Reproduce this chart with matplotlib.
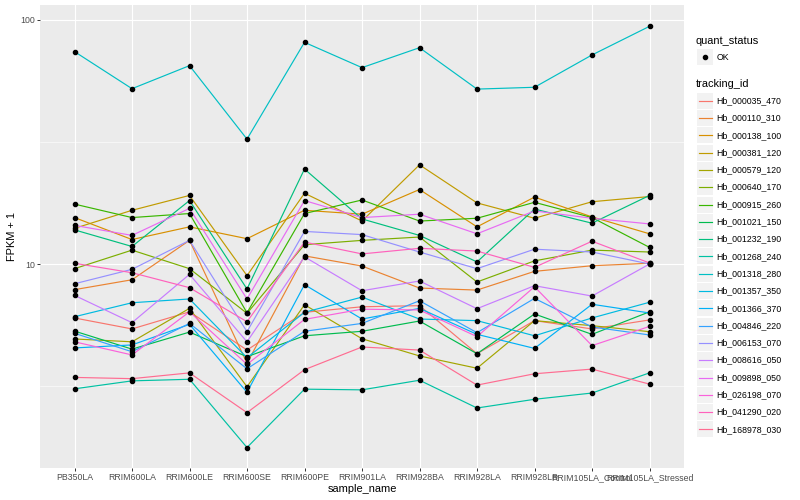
import numpy as np
import matplotlib
matplotlib.use("Agg")
import matplotlib.pyplot as plt
from matplotlib.ticker import FixedLocator, FixedFormatter
from matplotlib.patches import Rectangle
from matplotlib.lines import Line2D

plt.rcParams['font.family'] = ['Liberation Sans', 'DejaVu Sans']

samples = ["PB350LA", "RRIM600LA", "RRIM600LE", "RRIM600SE", "RRIM600PE", "RRIM901LA",
           "RRIM928BA", "RRIM928LA", "RRIM928LB", "RRIM105LA_Control", "RRIM105LA_Stressed"]

tracking_ids = ["Hb_000035_470", "Hb_000110_310", "Hb_000138_100", "Hb_000381_120",
                "Hb_000579_120", "Hb_000640_170", "Hb_000915_260", "Hb_001021_150",
                "Hb_001232_190", "Hb_001268_240", "Hb_001318_280", "Hb_001357_350",
                "Hb_001366_370", "Hb_004846_220", "Hb_006153_070", "Hb_008616_050",
                "Hb_009898_050", "Hb_026198_070", "Hb_041290_020", "Hb_168978_030"]

# FPKM + 1 per gene, one value per sample
fpkm = {
    "Hb_000035_470": [6.01, 5.42, 6.37, 4.44, 6.34, 6.68, 6.75, 4.29, 5.86, 5.42, 5.90],
    "Hb_000110_310": [7.85, 8.62, 12.5, 3.92, 10.8, 9.81, 7.97, 7.82, 9.33, 9.84, 10.07],
    "Hb_000138_100": [15.5, 12.6, 14.2, 12.7, 16.6, 16.0, 20.2, 14.2, 18.8, 15.6, 13.3],
    "Hb_000381_120": [14.0, 16.6, 19.1, 8.96, 19.5, 15.0, 25.5, 17.8, 15.4, 18.0, 18.9],
    "Hb_000579_120": [4.93, 4.80, 6.58, 3.14, 6.81, 4.94, 4.20, 3.74, 5.86, 5.59, 5.28],
    "Hb_000640_170": [9.57, 11.4, 9.57, 6.28, 12.0, 12.5, 12.9, 8.44, 10.3, 11.4, 11.2],
    "Hb_000915_260": [17.6, 15.5, 16.1, 6.31, 16.1, 18.3, 15.0, 15.4, 17.9, 15.5, 11.7],
    "Hb_001021_150": [5.31, 4.48, 5.26, 4.17, 5.08, 5.30, 5.84, 4.29, 6.24, 5.15, 6.37],
    "Hb_001232_190": [13.8, 11.8, 18.2, 7.90, 24.5, 15.3, 13.1, 10.2, 16.8, 14.7, 19.1],
    "Hb_001268_240": [3.08, 3.32, 3.37, 1.77, 3.07, 3.05, 3.34, 2.57, 2.79, 2.96, 3.58],
    "Hb_001318_280": [74.2, 52.3, 65.0, 32.5, 81.0, 63.8, 77.0, 52.1, 53.0, 71.9, 94.2],
    "Hb_001357_350": [6.08, 6.94, 7.19, 4.13, 6.34, 7.32, 5.95, 5.86, 5.08, 6.01, 6.97],
    "Hb_001366_370": [4.53, 4.66, 5.66, 2.98, 8.23, 5.95, 6.58, 5.15, 4.51, 6.84, 6.30],
    "Hb_004846_220": [5.20, 4.37, 5.71, 3.72, 5.30, 5.71, 7.07, 5.23, 7.23, 5.52, 5.12],
    "Hb_006153_070": [8.30, 9.51, 12.5, 5.28, 13.6, 13.2, 11.2, 9.57, 11.5, 11.2, 10.0],
    "Hb_008616_050": [7.44, 5.75, 9.07, 4.80, 10.7, 7.77, 8.52, 6.56, 8.15, 7.39, 10.0],
    "Hb_009898_050": [14.4, 13.1, 16.9, 7.19, 18.2, 15.5, 16.0, 13.3, 16.5, 15.4, 14.6],
    "Hb_026198_070": [4.80, 4.24, 6.37, 3.88, 5.93, 6.53, 6.48, 5.04, 8.07, 4.63, 5.55],
    "Hb_041290_020": [10.07, 9.21, 8.00, 5.80, 12.3, 11.0, 11.6, 11.3, 9.69, 12.4, 10.1],
    "Hb_168978_030": [3.43, 3.39, 3.58, 2.46, 3.69, 4.57, 4.44, 3.19, 3.55, 3.71, 3.22],
}

# ggplot default hue palette for 20 levels
colors = ["#F8766D", "#EA8331", "#D89000", "#C09B00", "#A3A500", "#7CAE00", "#39B600",
          "#00BB4E", "#00BF7D", "#00C1A3", "#00BFC4", "#00BAE0", "#00B0F6", "#35A2FF",
          "#9590FF", "#C77CFF", "#E76BF3", "#FA62DB", "#FF62BC", "#FF6C91"]

W, H = 800, 500
fig = plt.figure(figsize=(8, 5), dpi=100, facecolor="white")
px = lambda x, y: (x / W, 1 - y / H)

ax = fig.add_axes([40 / W, 1 - 468 / H, (684 - 40) / W, (468 - 5) / H])
ax.set_facecolor("#EBEBEB")
for s in ax.spines.values():
    s.set_visible(False)

x = np.arange(len(samples))
for tid, col in zip(tracking_ids, colors):
    ax.plot(x, fpkm[tid], color=col, lw=0.85, zorder=3, solid_capstyle="butt")
for tid in tracking_ids:
    ax.plot(x, fpkm[tid], ls="none", marker="o", ms=3.0, color="black", zorder=4)

ax.set_yscale("log")
ax.set_ylim(1.459, 115.2)
ax.set_xlim(-0.6, len(samples) - 0.4)
ax.yaxis.set_major_locator(FixedLocator([10, 100]))
ax.yaxis.set_major_formatter(FixedFormatter(["10", "100"]))
ax.yaxis.set_minor_locator(FixedLocator([10 ** 0.5, 10 ** 1.5]))
ax.yaxis.set_minor_formatter(FixedFormatter(["", ""]))
ax.set_xticks(x)
ax.set_xticklabels(samples)

ax.grid(True, which="major", color="white", lw=0.8, zorder=0)
ax.grid(True, which="minor", axis="y", color="white", lw=0.4, zorder=0)
ax.set_axisbelow(True)
ax.tick_params(which="major", length=2.0, width=0.7, color="#333333",
               labelsize=6.3, labelcolor="#4D4D4D", pad=1.6)
ax.tick_params(which="minor", length=0)

fig.text(*px(362, 489), "sample_name", ha="center", va="center", fontsize=7.9)
fig.text(*px(12, 236.5), "FPKM + 1", ha="center", va="center", rotation=90, fontsize=7.9)

# legend, drawn in figure pixels
def key_box(yc):
    fig.patches.append(Rectangle(px(697, yc + 8), 16 / W, 16 / H, transform=fig.transFigure,
                                 facecolor="#F2F2F2", edgecolor="none"))

fig.text(*px(696, 40.7), "quant_status", ha="left", va="center", fontsize=7.9)
key_box(57.3)
fig.lines.append(Line2D([705 / W], [1 - 57.3 / H], transform=fig.transFigure,
                        marker="o", ms=3.0, color="black", ls="none"))
fig.text(*px(716.7, 57.3), "OK", ha="left", va="center", fontsize=6.3)

fig.text(*px(696, 84), "tracking_id", ha="left", va="center", fontsize=7.9)
for i, (tid, col) in enumerate(zip(tracking_ids, colors)):
    yc = 100.7 + 17.3 * i
    key_box(yc)
    fig.lines.append(Line2D([698.5 / W, 711.5 / W], [1 - yc / H] * 2, transform=fig.transFigure,
                            color=col, lw=0.85))
    fig.text(*px(716.7, yc), tid, ha="left", va="center", fontsize=6.3)

fig.savefig("out.png", dpi=100)
